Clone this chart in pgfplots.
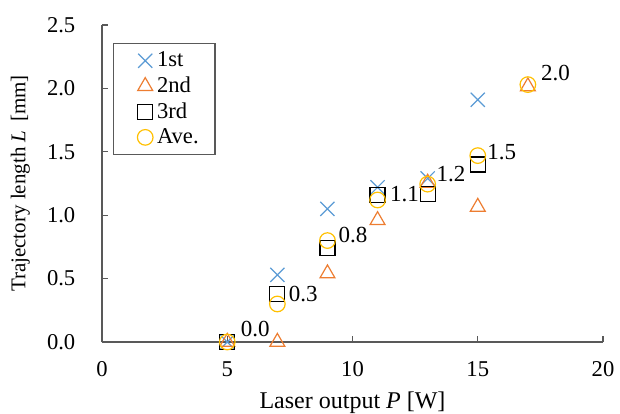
\documentclass[border=0pt]{standalone}
\usepackage{fontspec}
\setmainfont{Liberation Serif}
\usepackage{pgfplots}
\pgfplotsset{compat=1.18}
\definecolor{c1}{HTML}{5B9BD5}
\definecolor{c2}{HTML}{ED7D31}
\definecolor{c4}{HTML}{FFC000}
\definecolor{axgray}{HTML}{595959}

\begin{document}
\fontsize{11}{13.5}\selectfont
\begin{tikzpicture}
\begin{axis}[
  width=250.5pt, height=158.5pt, scale only axis,
  xmin=0, xmax=20, ymin=0, ymax=2.5,
  xtick={0,5,10,15,20}, ytick={0,0.5,1,1.5,2,2.5},
  axis x line*=bottom, axis y line*=left,
  tick align=inside, major tick length=3pt,
  axis line style={axgray, line width=0.6pt},
  every tick/.style={axgray, line width=0.6pt},
  /pgf/number format/assume math mode=true,
  tick label style={font=\fontsize{11.3}{13}\selectfont},
  yticklabel style={/pgf/number format/fixed, /pgf/number format/fixed zerofill,
    /pgf/number format/precision=1, xshift=-9.5pt},
  xticklabel style={yshift=-6pt},
  xlabel={Laser output \textit{P} [W]},
  xlabel style={font=\fontsize{12}{14}\selectfont},
  ylabel={Trajectory length \textit{L}\, [mm]},
  ylabel style={font=\fontsize{10.5}{12.5}\selectfont},
  ylabel shift=1pt,
  clip=false,
  legend style={draw=axgray, line width=0.6pt, at={(0.022,0.943)}, anchor=north west,
    font=\fontsize{11.3}{13.5}\selectfont, row sep=-0.6pt, inner ysep=2pt},
  legend cell align=left,
  legend image code/.code={\path (0pt,0pt);
    \draw[mark repeat=2,mark phase=2,#1] plot coordinates {(6.5pt,0pt)(12.5pt,0pt)(18.5pt,0pt)};},
]
\coordinate (bbsw) at (rel axis cs:-0.2036,-0.224);
\coordinate (bbne) at (rel axis cs:1.0339,1.0789);

\addplot[only marks, mark=x, mark size=5pt, c1, line width=0.6pt] coordinates {
  (5,0) (7,0.53) (9,1.05) (11,1.22) (13,1.29) (15,1.91)
};
\addlegendentry{\makebox[24pt][l]{1st}}
\addplot[only marks, mark=triangle, mark size=4.3pt, c2, line width=0.6pt] coordinates {
  (5,0) (7,0) (9,0.54) (11,0.96) (13,1.255) (15,1.065) (17,2.015)
};
\addlegendentry{\makebox[24pt][l]{2nd}}
\addplot[only marks, mark=square, mark size=3.75pt, black, line width=0.6pt] coordinates {
  (5,0) (7,0.38) (9,0.74) (11,1.16) (13,1.17) (15,1.40)
};
\addlegendentry{\makebox[24pt][l]{3rd}}
\addplot[only marks, mark=o, mark size=3.9pt, c4, line width=0.6pt,
  nodes near coords, point meta=explicit symbolic,
  visualization depends on={\thisrow{dx}\as\dx},
  visualization depends on={\thisrow{dy}\as\dy},
  every node near coord/.append style={anchor=west, inner sep=0pt, text=black,
    xshift=\dx pt, yshift=\dy pt, font=\fontsize{11.5}{13.5}\selectfont},
] table[meta=lab] {
x  y     lab  dx   dy
5  0.00  0.0  6.5  6.5
7  0.30  0.3  5.5  5
9  0.80  0.8  5.3  3
11 1.12  1.1  6    3
13 1.245 1.2  4.2  5
15 1.47  1.5  4.5  2
17 2.03  2.0  6.3  6
};
\addlegendentry{\makebox[24pt][l]{Ave.}}
\end{axis}
\pgfresetboundingbox
\path (bbsw) rectangle (bbne);
\end{tikzpicture}
\end{document}
